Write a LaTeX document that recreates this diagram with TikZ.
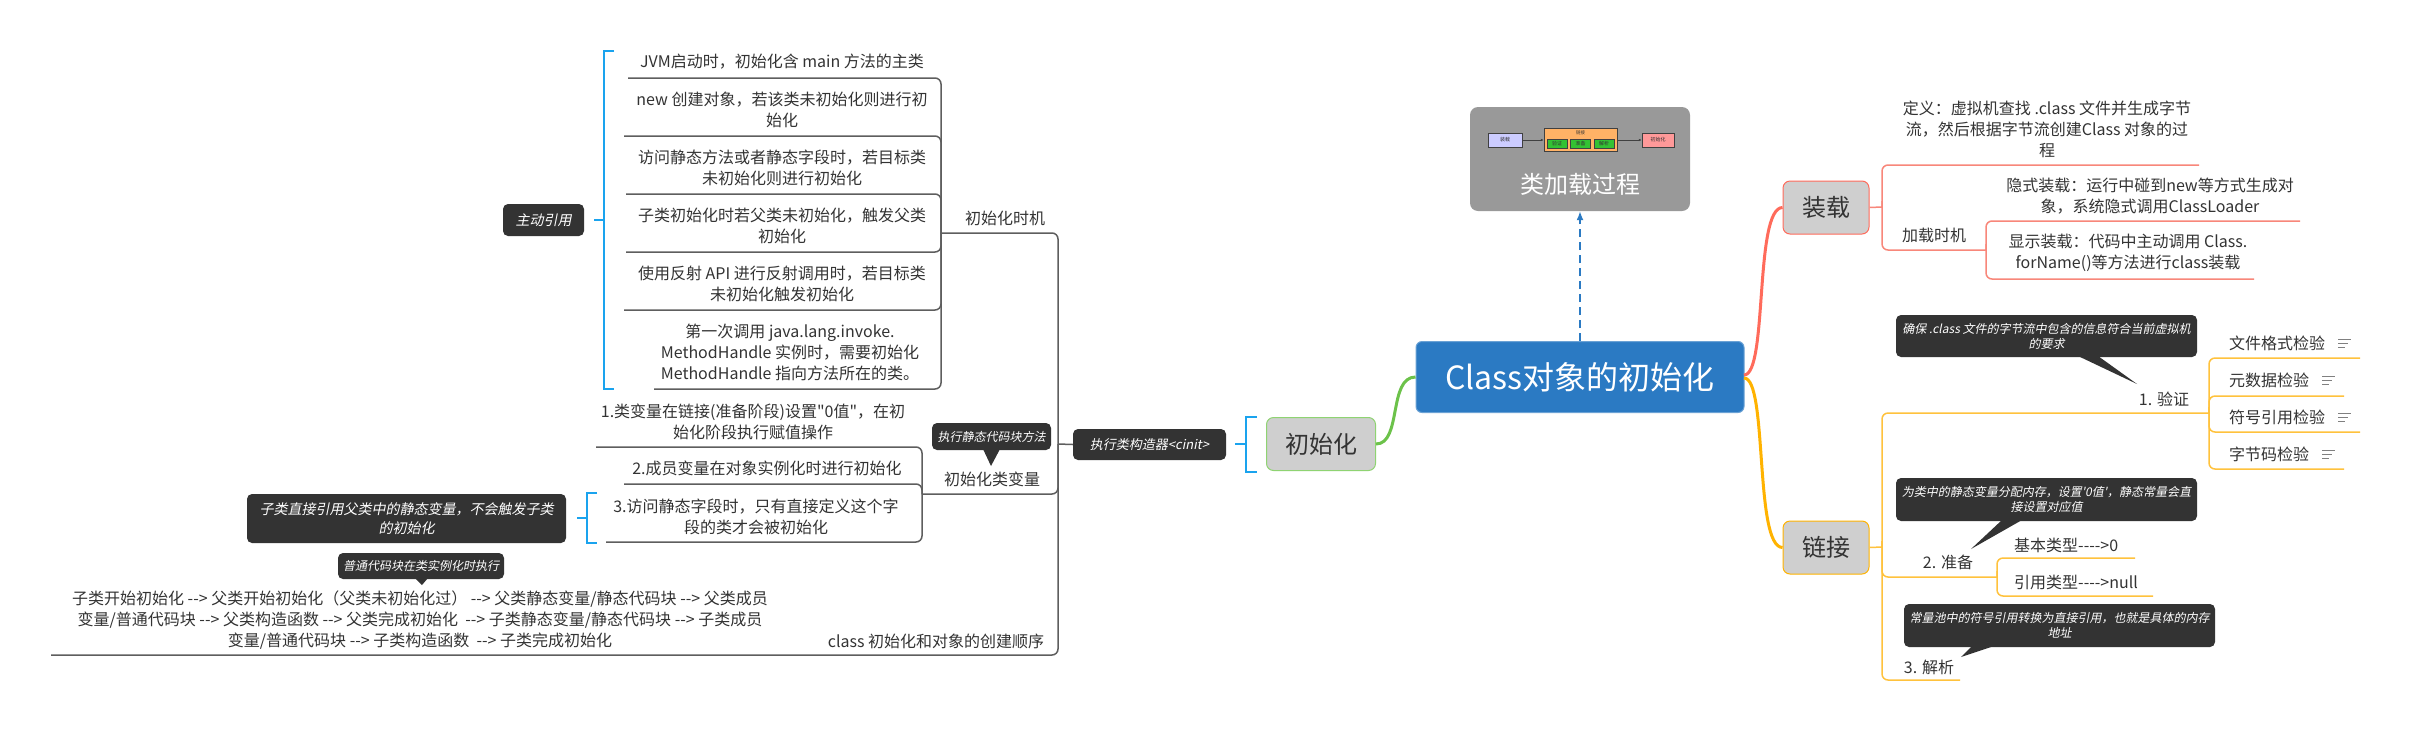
\documentclass[tikz,border=0pt]{standalone}
\usepackage{fontspec}
\setmainfont{Noto Sans CJK SC}[Ligatures=TeXOff]
\newfontfamily\itfont{Noto Sans CJK SC}[FakeSlant=0.2,Ligatures=TeXOff]
\usetikzlibrary{arrows.meta}
\definecolor{txtc}{HTML}{333333}
\definecolor{calc}{HTML}{333333}
\definecolor{rootc}{HTML}{2B7AC3}
\definecolor{redc}{HTML}{FF6B5B}
\definecolor{redl}{HTML}{F8877A}
\definecolor{orc}{HTML}{FFB300}
\definecolor{orl}{HTML}{FFC23D}
\definecolor{grc}{HTML}{6CC24A}
\definecolor{grl}{HTML}{8FD372}
\definecolor{brc}{HTML}{1AA3EE}
\definecolor{glc}{HTML}{5E5E5E}
\definecolor{nodefill}{HTML}{CFCFCF}
\definecolor{lpgray}{HTML}{999999}
\begin{document}
\begin{tikzpicture}[x=1pt,y=-1pt,
 itemtext/.style={text=txtc, inner sep=0, align=center, font=\fontsize{16}{21}\selectfont},
 calloutbox/.style={fill=calc, rounded corners=5, text=white, inner sep=0, align=center, font=\itfont\fontsize{12}{15}\selectfont},
 topicbox/.style={fill=nodefill, rounded corners=7, text=txtc, font=\fontsize{24}{28}\selectfont, minimum height=53, minimum width=86, inner sep=0, line width=1},
 gline/.style={draw=glc, line width=1.5, rounded corners=6},
 rline/.style={draw=redl, line width=1.5, rounded corners=6},
 oline/.style={draw=orl, line width=1.5, rounded corners=6},
 bracketline/.style={draw=brc, line width=2},
 noteicon/.style={draw=black!50, line width=1.5},
 thumbbox/.style={draw=black!75, line width=0.5, inner sep=0, font=\fontsize{5}{6}\selectfont, text=black!80}]
\fill[white] (0,0) rectangle (2410,732);
\useasboundingbox (0,0) rectangle (2410,732);

% ---------- root ----------
\node[fill=rootc, draw=rootc!70!white, line width=1, rounded corners=6, minimum width=328, minimum height=71, inner sep=0, text=white, font=\fontsize{32}{36}\selectfont] (root) at (1580,377) {Class对象的初始化};

% ---------- class loading picture ----------
\node[fill=lpgray, rounded corners=8, minimum width=220, minimum height=104, inner sep=0] (lp) at (1580,159) {};
\node[text=white, inner sep=0, font=\fontsize{24}{28}\selectfont] (lpt) at (1580,184) {类加载过程};
\node[thumbbox, fill=blue!20, minimum width=34, minimum height=14] (t1) at (1505,140) {装载};
\node[thumbbox, fill=orange!60, minimum width=73, minimum height=23] (t2) at (1580.5,139.5) {};
\node[inner sep=0, font=\fontsize{4.5}{5}\selectfont, text=black!80] (t2l) at (1580.5,132.5) {链接};
\node[thumbbox, fill=green!70!black!80, minimum width=20, minimum height=9] (t3) at (1557,144) {验证};
\node[thumbbox, fill=green!70!black!80, minimum width=20, minimum height=9] (t4) at (1580.5,144) {准备};
\node[thumbbox, fill=green!70!black!80, minimum width=20, minimum height=9] (t5) at (1604,144) {解析};
\node[thumbbox, fill=red!40, minimum width=32, minimum height=14] (t6) at (1658,140) {初始化};
\draw[black!75, line width=0.5, -{Latex[length=3,width=2.5]}] (t1.east) -- (t2.west |- t1.east);
\draw[black!75, line width=0.5, -{Latex[length=3,width=2.5]}] (t2.east |- t6.west) -- (t6.west);
\draw[rootc, line width=1.5, dash pattern=on 8pt off 5pt, -{Latex[length=9,width=7]}] (root.north) -- (lp.south);

% ---------- main topics ----------
\node[topicbox, draw=redc] (zz) at (1826,207.5) {装载};
\node[topicbox, draw=orc] (lj) at (1826,547.5) {链接};
\node[topicbox, draw=grl, minimum width=109] (csh) at (1321,444) {初始化};
\draw[redc, line width=3] (1744,375) .. controls (1768,375) and (1754,208) .. (zz.west);
\draw[orc, line width=3] (1744,378) .. controls (1768,378) and (1754,547) .. (lj.west);
\draw[grc, line width=3] (root.west) .. controls (1388,377) and (1402,444) .. (csh.east);

% ---------- 装载 subtree ----------
\node[itemtext] (dy) at (2047,129) {定义：虚拟机查找 .class 文件并生成字节\\流，然后根据字节流创建Class 对象的过\\程};
\node[itemtext] (jzsj) at (1934,235) {加载时机};
\node[itemtext] (ys) at (2150,196.5) {隐式装载：运行中碰到new等方式生成对\\象，系统隐式调用ClassLoader};
\node[itemtext] (xs) at (2128,253) {显示装载：代码中主动调用 Class.\\forName()等方法进行class装载};
\draw[rline] (zz.east) -- (1882,207);
\draw[rline] (2199,165) -- (1882,165) |- (1882,207);
\draw[rline] (1986,250) -- (1882,250) |- (1882,207);
\draw[rline] (2300,221) -- (1986,221) |- (1986,250);
\draw[rline] (2254,279) -- (1986,279) |- (1986,250);

% ---------- 链接 subtree ----------
\draw[oline] (lj.east) -- (1882,547);
\draw[oline] (2209,413) -- (1882,413) |- (1882,547);
\draw[oline] (1997,577) -- (1882,577) |- (1882,547);
\draw[oline] (1960,680) -- (1882,680) |- (1882,547);
\node[itemtext] (yz) at (2164,399) {1. 验证};
\node[itemtext] (zb) at (1948,562) {2. 准备};
\node[itemtext] (jx) at (1929,667) {3. 解析};
% 验证 children
\draw[oline] (2360,358) -- (2209,358) |- (2209,413);
\draw[oline] (2344,396) -- (2209,396) |- (2209,413);
\draw[oline] (2360,432) -- (2209,432) |- (2209,413);
\draw[oline] (2344,469) -- (2209,469) |- (2209,413);
\node[itemtext, anchor=west] (v1) at (2229,343) {文件格式检验};
\node[itemtext, anchor=west] (v2) at (2229,380) {元数据检验};
\node[itemtext, anchor=west] (v3) at (2229,417) {符号引用检验};
\node[itemtext, anchor=west] (v4) at (2229,454) {字节码检验};
\draw[noteicon] (2338,339.5) -- +(13,0) (2338,343.5) -- +(10,0) (2338,347.5) -- +(7,0);
\draw[noteicon] (2322,376.5) -- +(13,0) (2322,380.5) -- +(10,0) (2322,384.5) -- +(7,0);
\draw[noteicon] (2338,413.5) -- +(13,0) (2338,417.5) -- +(10,0) (2338,421.5) -- +(7,0);
\draw[noteicon] (2322,450.5) -- +(13,0) (2322,454.5) -- +(10,0) (2322,458.5) -- +(7,0);
% 准备 children
\draw[oline] (2135,558) -- (1997,558) |- (1997,577);
\draw[oline] (2153,596) -- (1997,596) |- (1997,577);
\node[itemtext, anchor=west] (p1) at (2014,545) {基本类型---->0};
\node[itemtext, anchor=west] (p2) at (2014,582) {引用类型---->null};
% callouts
\node[calloutbox, minimum width=301, minimum height=42] (cyz) at (2046.5,336) {确保 .class 文件的字节流中包含的信息符合当前虚拟机\\的要求};
\fill[calc] (2078,356) -- (2098,356) -- (2137,384) -- cycle;
\node[calloutbox, minimum width=301, minimum height=43] (czb) at (2046.5,499.5) {为类中的静态变量分配内存，设置'0值'，静态常量会直\\接设置对应值};
\fill[calc] (2002,520) -- (2022,520) -- (1971,549) -- cycle;
\node[calloutbox, minimum width=311, minimum height=43] (cjx) at (2059.5,625.5) {常量池中的符号引用转换为直接引用，也就是具体的内存\\地址};
\fill[calc] (1972,646) -- (1994,646) -- (1961,657) -- cycle;

% ---------- 初始化 subtree ----------
\node[calloutbox, font=\itfont\fontsize{13}{16}\selectfont, minimum width=153, minimum height=31] (cinit) at (1149.5,444.5) {执行类构造器<cinit>};
\draw[bracketline] (1257,417) -- (1246,417) -- (1246,472) -- (1257,472);
\draw[bracketline] (1235,444) -- (1246,444);
\draw[gline] (1058,444) -- (cinit.west);
\draw[gline] (941,233) -| (1058,444);
\draw[gline] (922,494) -| (1058,444);
\draw[gline] (51,655) -| (1058,444);
\node[itemtext] (sj) at (1005,218) {初始化时机};
\node[itemtext] (lbl) at (992,479) {初始化类变量};
\node[itemtext] (sx) at (936,641) {class 初始化和对象的创建顺序};

% 初始化时机 children
\node[itemtext] (i1) at (782,62) {JVM启动时，初始化含 main 方法的主类};
\node[itemtext] (i2) at (782,110) {new 创建对象，若该类未初始化则进行初\\始化};
\node[itemtext] (i3) at (782,168) {访问静态方法或者静态字段时，若目标类\\未初始化则进行初始化};
\node[itemtext] (i4) at (782,226) {子类初始化时若父类未初始化，触发父类\\初始化};
\node[itemtext] (i5) at (782,284) {使用反射 API 进行反射调用时，若目标类\\未初始化触发初始化};
\node[itemtext] (i6) at (790,352) {第一次调用 java.lang.invoke.\\MethodHandle 实例时，需要初始化\\MethodHandle 指向方法所在的类。};
\draw[gline] (628,78) -| (941,233);
\draw[gline] (624,136) -| (941,233);
\draw[gline] (626,194) -| (941,233);
\draw[gline] (626,252) -| (941,233);
\draw[gline] (624,310) -| (941,233);
\draw[gline] (654,389) -| (941,233);
\node[calloutbox, font=\itfont\fontsize{14}{17}\selectfont, minimum width=81, minimum height=32] (zdyy) at (543.5,220) {主动引用};
\draw[bracketline] (614,51) -- (604,51) -- (604,389) -- (614,389);
\draw[bracketline] (594,220) -- (604,220);

% 初始化类变量 children
\node[itemtext] (c1) at (753,421.5) {1.类变量在链接(准备阶段)设置"0值"，在初\\始化阶段执行赋值操作};
\node[itemtext] (c2) at (767,468) {2.成员变量在对象实例化时进行初始化};
\node[itemtext] (c3) at (756,516.5) {3.访问静态字段时，只有直接定义这个字\\段的类才会被初始化};
\draw[gline] (596,447) -| (922,494);
\draw[gline] (624,484) -| (922,494);
\draw[gline] (606,542) -| (922,494);
\node[calloutbox, minimum width=119, minimum height=27] (cjt) at (991.5,436.5) {执行静态代码块方法};
\fill[calc] (983,449) -- (1000,449) -- (991,466) -- cycle;
\node[calloutbox, font=\itfont\fontsize{14}{19}\selectfont, minimum width=319, minimum height=49] (czl) at (406.5,518.5) {子类直接引用父类中的静态变量，不会触发子类\\的初始化};
\draw[bracketline] (597,493) -- (587,493) -- (587,543) -- (597,543);
\draw[bracketline] (577,518) -- (587,518);

% creation order
\node[itemtext] (ord) at (420,620) {子类开始初始化 --> 父类开始初始化（父类未初始化过） --> 父类静态变量/静态代码块 --> 父类成员\\变量/普通代码块 --> 父类构造函数 --> 父类完成初始化 ~--> 子类静态变量/静态代码块 --> 子类成员\\变量/普通代码块 --> 子类构造函数 ~--> 子类完成初始化};
\node[calloutbox, minimum width=166, minimum height=26] (cpt) at (421,566) {普通代码块在类实例化时执行};
\fill[calc] (415,578) -- (428,578) -- (422,585) -- cycle;
\end{tikzpicture}
\end{document}
